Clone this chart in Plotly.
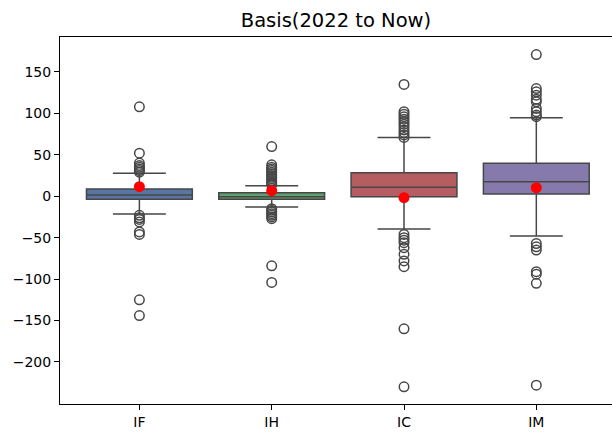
import plotly.graph_objects as go

categories = ["IF", "IH", "IC", "IM"]
q1 = [-3.6, -3.6, -0.5, 2.8]
median = [1.5, -0.5, 10.8, 17.6]
q3 = [8.8, 4.3, 28.5, 39.8]
lower_whisker = [-21.4, -12.9, -39.5, -47.9]
upper_whisker = [27.8, 12.8, 70.8, 94.9]
means = [11.6, 6.8, -1.7, 10.4]

outliers_IF = [108, 52, 40, 37, 35, 33, 31, 29, -23, -26, -28, -31, -43, -46, -125, -144]
outliers_IH = [60, 38, 35, 33, 31, 29, 27, 25, 23, 21, 19, 17, 15, 14,
               -15, -17, -19, -21, -23, -25, -27, -84, -104]
outliers_IC = [135, 102, 99, 96, 93, 90, 87, 84, 80, 77, 74, 71,
               -46, -50, -53, -56, -62, -70, -78, -85, -160, -230]
outliers_IM = [171, 130, 126, 122, 117, 114, 106, 102, 98, 96,
               -57, -61, -65, -91, -94, -105, -228]
outliers = [outliers_IF, outliers_IH, outliers_IC, outliers_IM]

colors = ["#5975a4", "#5f9e6e", "#b55d60", "#857aab"]
line_gray = "#474747"

fig = go.Figure()
for i, cat in enumerate(categories):
    fig.add_trace(go.Box(
        x=[i], q1=[q1[i]], median=[median[i]], q3=[q3[i]],
        lowerfence=[lower_whisker[i]], upperfence=[upper_whisker[i]],
        width=0.8, whiskerwidth=0.5, boxpoints=False,
        fillcolor=colors[i], line=dict(color=line_gray, width=1.5),
        name=cat, showlegend=False, hoverinfo="skip",
    ))

ox, oy = [], []
for i, vals in enumerate(outliers):
    ox += [i] * len(vals)
    oy += vals
fig.add_trace(go.Scatter(
    x=ox, y=oy, mode="markers", showlegend=False,
    marker=dict(symbol="circle-open", size=9.5, color=line_gray,
                line=dict(color=line_gray, width=1.5)),
))

fig.add_trace(go.Scatter(
    x=list(range(len(categories))), y=means, mode="markers", showlegend=False,
    marker=dict(symbol="circle", size=11, color="#ff0000"),
))

fig.update_layout(
    width=612, height=432,
    margin=dict(l=60, r=0, t=37, b=28),
    paper_bgcolor="white", plot_bgcolor="white",
    font=dict(family="DejaVu Sans", size=14, color="black"),
    title=dict(text="Basis(2022 to Now)", x=0.549, xanchor="center",
               y=1 - 20 / 432, yanchor="middle",
               font=dict(family="DejaVu Sans", size=19.5, color="black")),
)
fig.update_xaxes(
    range=[-0.6, 3.572], tickvals=list(range(len(categories))), ticktext=categories,
    showgrid=False, zeroline=False, showline=True, mirror=True,
    linecolor="black", linewidth=1, ticks="outside", ticklen=5, tickcolor="black",
)
fig.update_yaxes(
    range=[-250.7, 192.2], tickvals=[-200, -150, -100, -50, 0, 50, 100, 150],
    showgrid=False, zeroline=False, showline=True, mirror=True,
    linecolor="black", linewidth=1, ticks="outside", ticklen=5, tickcolor="black",
)

fig.write_html("out.html")
